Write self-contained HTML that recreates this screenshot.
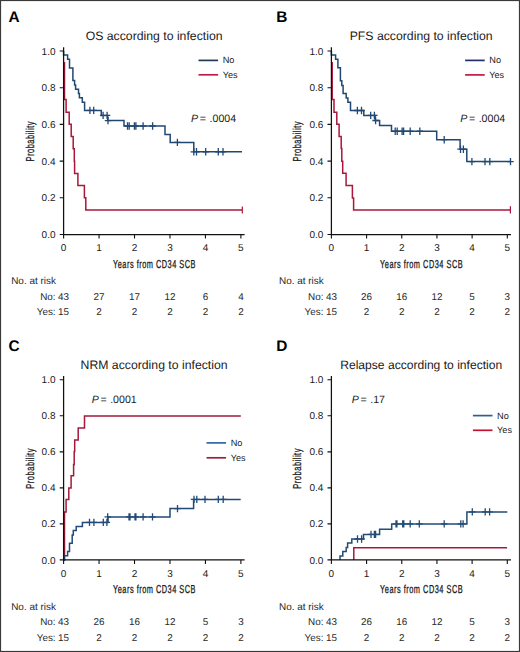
<!DOCTYPE html><html><head><meta charset="utf-8"><style>html,body{margin:0;padding:0;background:#fff;}svg{display:block;}text{font-family:"Liberation Sans",sans-serif;text-rendering:geometricPrecision;}</style></head><body>
<svg width="520" height="652" viewBox="0 0 520 652">
<rect x="0" y="0" width="520" height="652" fill="#fff"/>
<rect x="0.5" y="0.5" width="519" height="651" fill="none" stroke="#3a3a3a" stroke-width="1.2"/>
<text x="8.40" y="21.80" font-size="15.4" text-anchor="start" fill="#000" font-weight="bold">A</text>
<text x="154.10" y="39.80" font-size="12.25" text-anchor="middle" fill="#1a1a1a" >OS according to infection</text>
<text x="55.50" y="238.10" font-size="10" text-anchor="end" fill="#1a1a1a" >0.0</text>
<text x="63.60" y="251.20" font-size="10" text-anchor="middle" fill="#1a1a1a" >0</text>
<text x="55.50" y="201.40" font-size="10" text-anchor="end" fill="#1a1a1a" >0.2</text>
<text x="99.06" y="251.20" font-size="10" text-anchor="middle" fill="#1a1a1a" >1</text>
<text x="55.50" y="164.70" font-size="10" text-anchor="end" fill="#1a1a1a" >0.4</text>
<text x="134.52" y="251.20" font-size="10" text-anchor="middle" fill="#1a1a1a" >2</text>
<text x="55.50" y="128.00" font-size="10" text-anchor="end" fill="#1a1a1a" >0.6</text>
<text x="169.98" y="251.20" font-size="10" text-anchor="middle" fill="#1a1a1a" >3</text>
<text x="55.50" y="91.30" font-size="10" text-anchor="end" fill="#1a1a1a" >0.8</text>
<text x="205.44" y="251.20" font-size="10" text-anchor="middle" fill="#1a1a1a" >4</text>
<text x="55.50" y="54.60" font-size="10" text-anchor="end" fill="#1a1a1a" >1.0</text>
<text x="240.90" y="251.20" font-size="10" text-anchor="middle" fill="#1a1a1a" >5</text>
<text x="0" y="0" font-size="11.5" text-anchor="middle" fill="#1a1a1a" stroke="#1a1a1a" stroke-width="0.3" letter-spacing="0.8" transform="translate(154.50,267.90) scale(0.64,1)">Years from CD34 SCB</text>
<text x="0" y="0" font-size="11.5" text-anchor="middle" fill="#1a1a1a" stroke="#1a1a1a" stroke-width="0.3" letter-spacing="0.8" transform="translate(33.60,141.25) rotate(-90) scale(0.65,1)">Probability</text>
<path d="M198.50,60.40 h19.6" stroke="#1f3a58" stroke-width="1.7"/>
<path d="M198.50,74.80 h19.6" stroke="#c41a48" stroke-width="1.7"/>
<text x="222.70" y="63.30" font-size="9.2" text-anchor="start" fill="#1a1a1a" >No</text>
<text x="222.70" y="77.80" font-size="9.1" text-anchor="start" fill="#1a1a1a" >Yes</text>
<text x="191.10" y="121.90" font-size="10.6" fill="#1a1a1a"><tspan font-style="italic">P</tspan><tspan dx="1.6">=</tspan><tspan dx="3.6">.0004</tspan></text>
<path d="M64.5,62 V99.6 H66.1 V112.3 H69.2 V124.2 H71.2 V136.5 H73.2 V148.8 H74.3 V161.3 H74.6 V173.4 H77.9 V185.4 H84.4 V197.8 H85.8 V210 H242.3" stroke="#a8183c" stroke-width="1.5" fill="none"/>
<path d="M63.6,51 V55 H67.6 V59.2 H69.5 V68 H72.9 V80.5 H74.6 V85 H75.6 V89.2 H78.5 V93.5 H79.4 V97.7 H82.3 V102.3 H84.6 V110.4 H101.3 V115.4 H107.7 V120.6 H124 V126 H165 V134.4 H170.2 V142.4 H193.8 V151.8 H242" stroke="#214873" stroke-width="1.5" fill="none"/>
<path d="M89.90,106.70 v7.4 M86.70,110.40 h6.4 M93.70,106.70 v7.4 M90.50,110.40 h6.4 M103.10,111.70 v7.4 M99.90,115.40 h6.4 M107.10,111.70 v7.4 M103.90,115.40 h6.4 M108.00,116.90 v7.4 M104.80,120.60 h6.4 M127.50,122.30 v7.4 M124.30,126.00 h6.4 M129.20,122.30 v7.4 M126.00,126.00 h6.4 M134.40,122.30 v7.4 M131.20,126.00 h6.4 M135.90,122.30 v7.4 M132.70,126.00 h6.4 M143.10,122.30 v7.4 M139.90,126.00 h6.4 M152.60,122.30 v7.4 M149.40,126.00 h6.4 M177.40,138.70 v7.4 M174.20,142.40 h6.4 M193.80,148.10 v7.4 M190.60,151.80 h6.4 M196.50,148.10 v7.4 M193.30,151.80 h6.4 M205.70,148.10 v7.4 M202.50,151.80 h6.4 M218.30,148.10 v7.4 M215.10,151.80 h6.4 M223.00,148.10 v7.4 M219.80,151.80 h6.4" stroke="#214873" stroke-width="1.3" fill="none"/>
<path d="M242.30,206.40 v7.2" stroke="#a8183c" stroke-width="1.2" fill="none"/>
<path d="M63.60,47.20 V234.50 M63.00,234.50 H244.60" stroke="#111" stroke-width="1.25" fill="none"/>
<path d="M59.70,234.50 H63.60 M63.60,234.50 V238.60 M59.70,197.80 H63.60 M99.06,234.50 V238.60 M59.70,161.10 H63.60 M134.52,234.50 V238.60 M59.70,124.40 H63.60 M169.98,234.50 V238.60 M59.70,87.70 H63.60 M205.44,234.50 V238.60 M59.70,51.00 H63.60 M240.90,234.50 V238.60" stroke="#111" stroke-width="1.1" fill="none"/>
<text x="11.20" y="284.20" font-size="9.95" text-anchor="start" fill="#2a2a2a" >No. at risk</text>
<text x="63.60" y="299.80" font-size="9.9" text-anchor="middle" fill="#2a2a2a" >43</text>
<text x="63.60" y="314.80" font-size="9.9" text-anchor="middle" fill="#2a2a2a" >15</text>
<text x="99.06" y="299.80" font-size="9.9" text-anchor="middle" fill="#2a2a2a" >27</text>
<text x="99.06" y="314.80" font-size="9.9" text-anchor="middle" fill="#2a2a2a" >2</text>
<text x="134.52" y="299.80" font-size="9.9" text-anchor="middle" fill="#2a2a2a" >17</text>
<text x="134.52" y="314.80" font-size="9.9" text-anchor="middle" fill="#2a2a2a" >2</text>
<text x="169.98" y="299.80" font-size="9.9" text-anchor="middle" fill="#2a2a2a" >12</text>
<text x="169.98" y="314.80" font-size="9.9" text-anchor="middle" fill="#2a2a2a" >2</text>
<text x="205.44" y="299.80" font-size="9.9" text-anchor="middle" fill="#2a2a2a" >6</text>
<text x="205.44" y="314.80" font-size="9.9" text-anchor="middle" fill="#2a2a2a" >2</text>
<text x="240.90" y="299.80" font-size="9.9" text-anchor="middle" fill="#2a2a2a" >4</text>
<text x="240.90" y="314.80" font-size="9.9" text-anchor="middle" fill="#2a2a2a" >2</text>
<text x="55.60" y="299.80" font-size="9.9" text-anchor="end" fill="#2a2a2a" >No:</text>
<text x="55.60" y="314.80" font-size="9.9" text-anchor="end" fill="#2a2a2a" >Yes:</text>
<text x="276.20" y="21.80" font-size="15.4" text-anchor="start" fill="#000" font-weight="bold">B</text>
<text x="421.20" y="39.80" font-size="12.25" text-anchor="middle" fill="#1a1a1a" >PFS according to infection</text>
<text x="323.30" y="238.10" font-size="10" text-anchor="end" fill="#1a1a1a" >0.0</text>
<text x="331.40" y="251.20" font-size="10" text-anchor="middle" fill="#1a1a1a" >0</text>
<text x="323.30" y="201.40" font-size="10" text-anchor="end" fill="#1a1a1a" >0.2</text>
<text x="366.58" y="251.20" font-size="10" text-anchor="middle" fill="#1a1a1a" >1</text>
<text x="323.30" y="164.70" font-size="10" text-anchor="end" fill="#1a1a1a" >0.4</text>
<text x="401.76" y="251.20" font-size="10" text-anchor="middle" fill="#1a1a1a" >2</text>
<text x="323.30" y="128.00" font-size="10" text-anchor="end" fill="#1a1a1a" >0.6</text>
<text x="436.94" y="251.20" font-size="10" text-anchor="middle" fill="#1a1a1a" >3</text>
<text x="323.30" y="91.30" font-size="10" text-anchor="end" fill="#1a1a1a" >0.8</text>
<text x="472.12" y="251.20" font-size="10" text-anchor="middle" fill="#1a1a1a" >4</text>
<text x="323.30" y="54.60" font-size="10" text-anchor="end" fill="#1a1a1a" >1.0</text>
<text x="507.30" y="251.20" font-size="10" text-anchor="middle" fill="#1a1a1a" >5</text>
<text x="0" y="0" font-size="11.5" text-anchor="middle" fill="#1a1a1a" stroke="#1a1a1a" stroke-width="0.3" letter-spacing="0.8" transform="translate(421.60,267.90) scale(0.64,1)">Years from CD34 SCB</text>
<text x="0" y="0" font-size="11.5" text-anchor="middle" fill="#1a1a1a" stroke="#1a1a1a" stroke-width="0.3" letter-spacing="0.8" transform="translate(301.40,141.25) rotate(-90) scale(0.65,1)">Probability</text>
<path d="M465.10,60.40 h19.6" stroke="#1f306a" stroke-width="1.7"/>
<path d="M465.10,74.90 h19.6" stroke="#c01a42" stroke-width="1.7"/>
<text x="489.30" y="63.30" font-size="9.2" text-anchor="start" fill="#1a1a1a" >No</text>
<text x="489.30" y="77.90" font-size="9.1" text-anchor="start" fill="#1a1a1a" >Yes</text>
<text x="460.20" y="121.90" font-size="10.6" fill="#1a1a1a"><tspan font-style="italic">P</tspan><tspan dx="1.6">=</tspan><tspan dx="3.6">.0004</tspan></text>
<path d="M332.2,62 V99.4 H334 V112.3 H336.8 V124.2 H339.1 V136.5 H341.2 V148.6 H341.8 V161.3 H342.7 V173.3 H346.1 V185.4 H352.4 V198 H353.6 V209.9 H510.4" stroke="#a8183c" stroke-width="1.5" fill="none"/>
<path d="M331.4,51 V55 H335.6 V59.2 H337.9 V67.7 H340.4 V80.8 H341.8 V85.4 H343.1 V93.5 H346.2 V98.1 H347.9 V102.3 H350.5 V110.5 H363.8 V115.4 H375.1 V120.5 H379.6 V125.5 H391.5 V131.2 H436.7 V139.7 H460.1 V149.2 H466.8 V161.6 H510.5" stroke="#214873" stroke-width="1.5" fill="none"/>
<path d="M357.40,106.80 v7.4 M354.20,110.50 h6.4 M361.50,106.80 v7.4 M358.30,110.50 h6.4 M370.70,111.70 v7.4 M367.50,115.40 h6.4 M374.40,111.70 v7.4 M371.20,115.40 h6.4 M375.60,116.80 v7.4 M372.40,120.50 h6.4 M395.20,127.50 v7.4 M392.00,131.20 h6.4 M397.20,127.50 v7.4 M394.00,131.20 h6.4 M402.10,127.50 v7.4 M398.90,131.20 h6.4 M403.60,127.50 v7.4 M400.40,131.20 h6.4 M410.20,127.50 v7.4 M407.00,131.20 h6.4 M419.80,127.50 v7.4 M416.60,131.20 h6.4 M444.20,136.00 v7.4 M441.00,139.70 h6.4 M460.50,145.50 v7.4 M457.30,149.20 h6.4 M463.40,145.50 v7.4 M460.20,149.20 h6.4 M471.90,157.90 v7.4 M468.70,161.60 h6.4 M485.00,157.90 v7.4 M481.80,161.60 h6.4 M489.80,157.90 v7.4 M486.60,161.60 h6.4 M510.50,157.90 v7.4 M507.30,161.60 h6.4" stroke="#214873" stroke-width="1.3" fill="none"/>
<path d="M510.40,206.30 v7.2" stroke="#a8183c" stroke-width="1.2" fill="none"/>
<path d="M331.40,47.20 V234.50 M330.80,234.50 H511.00" stroke="#111" stroke-width="1.25" fill="none"/>
<path d="M327.50,234.50 H331.40 M331.40,234.50 V238.60 M327.50,197.80 H331.40 M366.58,234.50 V238.60 M327.50,161.10 H331.40 M401.76,234.50 V238.60 M327.50,124.40 H331.40 M436.94,234.50 V238.60 M327.50,87.70 H331.40 M472.12,234.50 V238.60 M327.50,51.00 H331.40 M507.30,234.50 V238.60" stroke="#111" stroke-width="1.1" fill="none"/>
<text x="279.00" y="284.20" font-size="9.95" text-anchor="start" fill="#2a2a2a" >No. at risk</text>
<text x="331.40" y="299.80" font-size="9.9" text-anchor="middle" fill="#2a2a2a" >43</text>
<text x="331.40" y="314.80" font-size="9.9" text-anchor="middle" fill="#2a2a2a" >15</text>
<text x="366.58" y="299.80" font-size="9.9" text-anchor="middle" fill="#2a2a2a" >26</text>
<text x="366.58" y="314.80" font-size="9.9" text-anchor="middle" fill="#2a2a2a" >2</text>
<text x="401.76" y="299.80" font-size="9.9" text-anchor="middle" fill="#2a2a2a" >16</text>
<text x="401.76" y="314.80" font-size="9.9" text-anchor="middle" fill="#2a2a2a" >2</text>
<text x="436.94" y="299.80" font-size="9.9" text-anchor="middle" fill="#2a2a2a" >12</text>
<text x="436.94" y="314.80" font-size="9.9" text-anchor="middle" fill="#2a2a2a" >2</text>
<text x="472.12" y="299.80" font-size="9.9" text-anchor="middle" fill="#2a2a2a" >5</text>
<text x="472.12" y="314.80" font-size="9.9" text-anchor="middle" fill="#2a2a2a" >2</text>
<text x="507.30" y="299.80" font-size="9.9" text-anchor="middle" fill="#2a2a2a" >3</text>
<text x="507.30" y="314.80" font-size="9.9" text-anchor="middle" fill="#2a2a2a" >2</text>
<text x="323.40" y="299.80" font-size="9.9" text-anchor="end" fill="#2a2a2a" >No:</text>
<text x="323.40" y="314.80" font-size="9.9" text-anchor="end" fill="#2a2a2a" >Yes:</text>
<text x="8.40" y="350.80" font-size="15.4" text-anchor="start" fill="#000" font-weight="bold">C</text>
<text x="154.10" y="368.60" font-size="12.25" text-anchor="middle" fill="#1a1a1a" >NRM according to infection</text>
<text x="55.50" y="563.50" font-size="10" text-anchor="end" fill="#1a1a1a" >0.0</text>
<text x="63.60" y="576.60" font-size="10" text-anchor="middle" fill="#1a1a1a" >0</text>
<text x="55.50" y="527.48" font-size="10" text-anchor="end" fill="#1a1a1a" >0.2</text>
<text x="99.06" y="576.60" font-size="10" text-anchor="middle" fill="#1a1a1a" >1</text>
<text x="55.50" y="491.46" font-size="10" text-anchor="end" fill="#1a1a1a" >0.4</text>
<text x="134.52" y="576.60" font-size="10" text-anchor="middle" fill="#1a1a1a" >2</text>
<text x="55.50" y="455.44" font-size="10" text-anchor="end" fill="#1a1a1a" >0.6</text>
<text x="169.98" y="576.60" font-size="10" text-anchor="middle" fill="#1a1a1a" >3</text>
<text x="55.50" y="419.42" font-size="10" text-anchor="end" fill="#1a1a1a" >0.8</text>
<text x="205.44" y="576.60" font-size="10" text-anchor="middle" fill="#1a1a1a" >4</text>
<text x="55.50" y="383.40" font-size="10" text-anchor="end" fill="#1a1a1a" >1.0</text>
<text x="240.90" y="576.60" font-size="10" text-anchor="middle" fill="#1a1a1a" >5</text>
<text x="0" y="0" font-size="11.5" text-anchor="middle" fill="#1a1a1a" stroke="#1a1a1a" stroke-width="0.3" letter-spacing="0.8" transform="translate(154.50,593.30) scale(0.64,1)">Years from CD34 SCB</text>
<text x="0" y="0" font-size="11.5" text-anchor="middle" fill="#1a1a1a" stroke="#1a1a1a" stroke-width="0.3" letter-spacing="0.8" transform="translate(33.60,468.35) rotate(-90) scale(0.65,1)">Probability</text>
<path d="M206.50,442.90 h19.6" stroke="#2e68a4" stroke-width="1.7"/>
<path d="M206.50,457.80 h19.6" stroke="#9e2040" stroke-width="1.7"/>
<text x="230.70" y="445.80" font-size="9.2" text-anchor="start" fill="#1a1a1a" >No</text>
<text x="230.70" y="460.80" font-size="9.1" text-anchor="start" fill="#1a1a1a" >Yes</text>
<text x="91.70" y="403.40" font-size="10.6" fill="#1a1a1a"><tspan font-style="italic">P</tspan><tspan dx="1.6">=</tspan><tspan dx="3.6">.0001</tspan></text>
<path d="M63.6,559.9 H64.5 V511.9 H66.1 V499.6 H68.8 V488.1 H71.1 V475.8 H73.6 V464.6 H74.2 V451.5 H74.7 V440 H78.2 V428.1 H84.5 V416 H240.8" stroke="#a31a3c" stroke-width="1.5" fill="none"/>
<path d="M63.6,559.9 H64.4 V555.8 H67.6 V551.5 H69.5 V543.3 H72.2 V535 H73.3 V530.4 H76.2 V526.5 H82.4 V522.4 H108 V516.9 H170 V508.6 H193.6 V499.4 H240.7" stroke="#224a78" stroke-width="1.5" fill="none"/>
<path d="M89.50,518.70 v7.4 M86.30,522.40 h6.4 M93.90,518.70 v7.4 M90.70,522.40 h6.4 M103.30,518.70 v7.4 M100.10,522.40 h6.4 M106.90,518.70 v7.4 M103.70,522.40 h6.4 M107.70,513.20 v7.4 M104.50,516.90 h6.4 M129.00,513.20 v7.4 M125.80,516.90 h6.4 M130.00,513.20 v7.4 M126.80,516.90 h6.4 M135.00,513.20 v7.4 M131.80,516.90 h6.4 M135.90,513.20 v7.4 M132.70,516.90 h6.4 M143.10,513.20 v7.4 M139.90,516.90 h6.4 M152.50,513.20 v7.4 M149.30,516.90 h6.4 M177.50,504.90 v7.4 M174.30,508.60 h6.4 M194.00,495.70 v7.4 M190.80,499.40 h6.4 M196.80,495.70 v7.4 M193.60,499.40 h6.4 M205.00,495.70 v7.4 M201.80,499.40 h6.4 M218.30,495.70 v7.4 M215.10,499.40 h6.4 M223.20,495.70 v7.4 M220.00,499.40 h6.4" stroke="#224a78" stroke-width="1.3" fill="none"/>
<path d="M63.60,376.00 V559.90 M63.00,559.90 H244.60" stroke="#111" stroke-width="1.25" fill="none"/>
<path d="M59.70,559.90 H63.60 M63.60,559.90 V564.00 M59.70,523.88 H63.60 M99.06,559.90 V564.00 M59.70,487.86 H63.60 M134.52,559.90 V564.00 M59.70,451.84 H63.60 M169.98,559.90 V564.00 M59.70,415.82 H63.60 M205.44,559.90 V564.00 M59.70,379.80 H63.60 M240.90,559.90 V564.00" stroke="#111" stroke-width="1.1" fill="none"/>
<text x="11.20" y="609.60" font-size="9.95" text-anchor="start" fill="#2a2a2a" >No. at risk</text>
<text x="63.60" y="625.20" font-size="9.9" text-anchor="middle" fill="#2a2a2a" >43</text>
<text x="63.60" y="640.60" font-size="9.9" text-anchor="middle" fill="#2a2a2a" >15</text>
<text x="99.06" y="625.20" font-size="9.9" text-anchor="middle" fill="#2a2a2a" >26</text>
<text x="99.06" y="640.60" font-size="9.9" text-anchor="middle" fill="#2a2a2a" >2</text>
<text x="134.52" y="625.20" font-size="9.9" text-anchor="middle" fill="#2a2a2a" >16</text>
<text x="134.52" y="640.60" font-size="9.9" text-anchor="middle" fill="#2a2a2a" >2</text>
<text x="169.98" y="625.20" font-size="9.9" text-anchor="middle" fill="#2a2a2a" >12</text>
<text x="169.98" y="640.60" font-size="9.9" text-anchor="middle" fill="#2a2a2a" >2</text>
<text x="205.44" y="625.20" font-size="9.9" text-anchor="middle" fill="#2a2a2a" >5</text>
<text x="205.44" y="640.60" font-size="9.9" text-anchor="middle" fill="#2a2a2a" >2</text>
<text x="240.90" y="625.20" font-size="9.9" text-anchor="middle" fill="#2a2a2a" >3</text>
<text x="240.90" y="640.60" font-size="9.9" text-anchor="middle" fill="#2a2a2a" >2</text>
<text x="55.60" y="625.20" font-size="9.9" text-anchor="end" fill="#2a2a2a" >No:</text>
<text x="55.60" y="640.60" font-size="9.9" text-anchor="end" fill="#2a2a2a" >Yes:</text>
<text x="276.20" y="350.80" font-size="15.4" text-anchor="start" fill="#000" font-weight="bold">D</text>
<text x="421.20" y="368.60" font-size="12.1" text-anchor="middle" fill="#1a1a1a" >Relapse according to infection</text>
<text x="323.30" y="563.50" font-size="10" text-anchor="end" fill="#1a1a1a" >0.0</text>
<text x="331.40" y="576.60" font-size="10" text-anchor="middle" fill="#1a1a1a" >0</text>
<text x="323.30" y="527.48" font-size="10" text-anchor="end" fill="#1a1a1a" >0.2</text>
<text x="366.58" y="576.60" font-size="10" text-anchor="middle" fill="#1a1a1a" >1</text>
<text x="323.30" y="491.46" font-size="10" text-anchor="end" fill="#1a1a1a" >0.4</text>
<text x="401.76" y="576.60" font-size="10" text-anchor="middle" fill="#1a1a1a" >2</text>
<text x="323.30" y="455.44" font-size="10" text-anchor="end" fill="#1a1a1a" >0.6</text>
<text x="436.94" y="576.60" font-size="10" text-anchor="middle" fill="#1a1a1a" >3</text>
<text x="323.30" y="419.42" font-size="10" text-anchor="end" fill="#1a1a1a" >0.8</text>
<text x="472.12" y="576.60" font-size="10" text-anchor="middle" fill="#1a1a1a" >4</text>
<text x="323.30" y="383.40" font-size="10" text-anchor="end" fill="#1a1a1a" >1.0</text>
<text x="507.30" y="576.60" font-size="10" text-anchor="middle" fill="#1a1a1a" >5</text>
<text x="0" y="0" font-size="11.5" text-anchor="middle" fill="#1a1a1a" stroke="#1a1a1a" stroke-width="0.3" letter-spacing="0.8" transform="translate(421.60,593.30) scale(0.64,1)">Years from CD34 SCB</text>
<text x="0" y="0" font-size="11.5" text-anchor="middle" fill="#1a1a1a" stroke="#1a1a1a" stroke-width="0.3" letter-spacing="0.8" transform="translate(301.40,468.35) rotate(-90) scale(0.65,1)">Probability</text>
<path d="M472.90,415.60 h19.6" stroke="#2f5f88" stroke-width="1.7"/>
<path d="M472.90,430.30 h19.6" stroke="#c4122e" stroke-width="1.7"/>
<text x="497.10" y="418.50" font-size="9.2" text-anchor="start" fill="#1a1a1a" >No</text>
<text x="497.10" y="433.30" font-size="9.1" text-anchor="start" fill="#1a1a1a" >Yes</text>
<text x="351.80" y="403.30" font-size="10.6" fill="#1a1a1a"><tspan font-style="italic">P</tspan><tspan dx="1.6">=</tspan><tspan dx="3.6">.17</tspan></text>
<path d="M353.8,559.9 V547.8 H507.1" stroke="#a31a3c" stroke-width="1.5" fill="none"/>
<path d="M340,559.9 V556.1 H342.8 V551.6 H346.2 V547.4 H347.6 V543.1 H351.8 V539 H363.5 V534.4 H379.6 V529.2 H391.7 V523.9 H466.9 V511.9 H507.3" stroke="#234c76" stroke-width="1.5" fill="none"/>
<path d="M357.50,535.30 v7.4 M354.30,539.00 h6.4 M361.60,535.30 v7.4 M358.40,539.00 h6.4 M371.00,530.70 v7.4 M367.80,534.40 h6.4 M374.40,530.70 v7.4 M371.20,534.40 h6.4 M375.60,530.70 v7.4 M372.40,534.40 h6.4 M396.00,520.20 v7.4 M392.80,523.90 h6.4 M396.90,520.20 v7.4 M393.70,523.90 h6.4 M402.70,520.20 v7.4 M399.50,523.90 h6.4 M403.80,520.20 v7.4 M400.60,523.90 h6.4 M410.20,520.20 v7.4 M407.00,523.90 h6.4 M419.30,520.20 v7.4 M416.10,523.90 h6.4 M444.20,520.20 v7.4 M441.00,523.90 h6.4 M460.80,520.20 v7.4 M457.60,523.90 h6.4 M463.10,520.20 v7.4 M459.90,523.90 h6.4 M472.30,508.20 v7.4 M469.10,511.90 h6.4 M485.20,508.20 v7.4 M482.00,511.90 h6.4 M489.60,508.20 v7.4 M486.40,511.90 h6.4" stroke="#234c76" stroke-width="1.3" fill="none"/>
<path d="M331.40,376.00 V559.90 M330.80,559.90 H511.00" stroke="#111" stroke-width="1.25" fill="none"/>
<path d="M327.50,559.90 H331.40 M331.40,559.90 V564.00 M327.50,523.88 H331.40 M366.58,559.90 V564.00 M327.50,487.86 H331.40 M401.76,559.90 V564.00 M327.50,451.84 H331.40 M436.94,559.90 V564.00 M327.50,415.82 H331.40 M472.12,559.90 V564.00 M327.50,379.80 H331.40 M507.30,559.90 V564.00" stroke="#111" stroke-width="1.1" fill="none"/>
<text x="279.00" y="609.60" font-size="9.95" text-anchor="start" fill="#2a2a2a" >No. at risk</text>
<text x="331.40" y="625.20" font-size="9.9" text-anchor="middle" fill="#2a2a2a" >43</text>
<text x="331.40" y="640.60" font-size="9.9" text-anchor="middle" fill="#2a2a2a" >15</text>
<text x="366.58" y="625.20" font-size="9.9" text-anchor="middle" fill="#2a2a2a" >26</text>
<text x="366.58" y="640.60" font-size="9.9" text-anchor="middle" fill="#2a2a2a" >2</text>
<text x="401.76" y="625.20" font-size="9.9" text-anchor="middle" fill="#2a2a2a" >16</text>
<text x="401.76" y="640.60" font-size="9.9" text-anchor="middle" fill="#2a2a2a" >2</text>
<text x="436.94" y="625.20" font-size="9.9" text-anchor="middle" fill="#2a2a2a" >12</text>
<text x="436.94" y="640.60" font-size="9.9" text-anchor="middle" fill="#2a2a2a" >2</text>
<text x="472.12" y="625.20" font-size="9.9" text-anchor="middle" fill="#2a2a2a" >5</text>
<text x="472.12" y="640.60" font-size="9.9" text-anchor="middle" fill="#2a2a2a" >2</text>
<text x="507.30" y="625.20" font-size="9.9" text-anchor="middle" fill="#2a2a2a" >3</text>
<text x="507.30" y="640.60" font-size="9.9" text-anchor="middle" fill="#2a2a2a" >2</text>
<text x="323.40" y="625.20" font-size="9.9" text-anchor="end" fill="#2a2a2a" >No:</text>
<text x="323.40" y="640.60" font-size="9.9" text-anchor="end" fill="#2a2a2a" >Yes:</text>
</svg></body></html>
